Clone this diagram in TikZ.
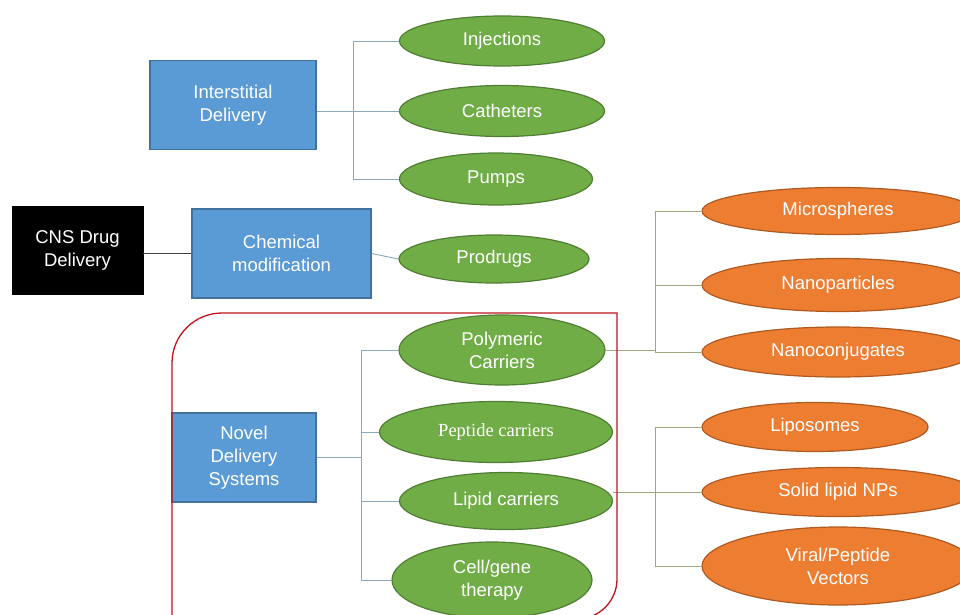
\documentclass[tikz,border=0pt]{standalone}
\usepackage{fontspec}
\setmainfont{Liberation Sans}
\newfontfamily\serifface{Liberation Serif}
\usetikzlibrary{shapes.geometric}
\definecolor{boxblue}{HTML}{5B9BD5}
\definecolor{boxblueline}{HTML}{41719C}
\definecolor{ovgreen}{HTML}{70AD47}
\definecolor{ovgreenline}{HTML}{507E32}
\definecolor{ovorange}{HTML}{ED7D31}
\definecolor{ovorangeline}{HTML}{AE5A21}
\definecolor{linkgray}{RGB}{140,168,188}
\definecolor{linkolive}{RGB}{165,165,128}
\definecolor{frame}{RGB}{192,20,30}
\tikzset{
  txt/.style={text=white, align=center, font=\fontsize{18.5}{23}\selectfont, inner sep=0pt},
  bluebox/.style={txt, rectangle, fill=boxblue, draw=boxblueline, line width=1.2pt},
  greenov/.style={txt, ellipse, fill=ovgreen, draw=ovgreenline, line width=1.2pt},
  orangeov/.style={txt, ellipse, fill=ovorange, draw=ovorangeline, line width=1.2pt},
  link/.style={draw=linkgray, line width=0.9pt},
  linkb/.style={draw=linkolive, line width=0.9pt}
}
\begin{document}
\begin{tikzpicture}[x=1pt, y=-1pt]
			%%%%% START %%%%%
			
			\clip (0, 0) rectangle (960, 615);
			
			\node[txt, rectangle, fill=black, draw=black, minimum width=131pt, minimum height=88pt] (cns) at (77.5, 250) {CNS Drug\\Delivery};
			
			\node[bluebox, minimum width=166pt, minimum height=89pt] (inter) at (233, 105) {Interstitial\\Delivery};
			\node[bluebox, minimum width=179pt, minimum height=89pt] (chem) at (281.5, 253.5) {Chemical\\modification};
			\node[bluebox, minimum width=144pt, minimum height=89pt] (novel) at (244, 457.5) {Novel\\Delivery\\Systems};
			
			\node[greenov, minimum width=205pt, minimum height=50pt] (inj) at (502, 41) {Injections};
			\node[greenov, minimum width=205pt, minimum height=51pt] (cath) at (502, 111) {Catheters};
			\node[greenov, minimum width=193pt, minimum height=52pt] (pump) at (496, 179) {Pumps};
			\node[greenov, minimum width=190pt, minimum height=48pt] (prod) at (494, 259) {Prodrugs};
			
			\node[greenov, minimum width=206pt, minimum height=70pt] (poly) at (502, 350) {Polymeric\\Carriers};
			\node[greenov, minimum width=233pt, minimum height=61pt, font=\serifface\fontsize{18.5}{23}\selectfont] (pept) at (496, 432) {Peptide carriers};
			\node[greenov, minimum width=213pt, minimum height=57pt] (lipid) at (506, 501) {Lipid carriers};
			\node[greenov, minimum width=200pt, minimum height=76pt] (cell) at (492, 580) {Cell/gene\\therapy};
			
			\node[orangeov, minimum width=272pt, minimum height=47pt] (micro) at (838, 211) {Microspheres};
			\node[orangeov, minimum width=272pt, minimum height=53pt] (nanop) at (838, 285) {Nanoparticles};
			\node[orangeov, minimum width=272pt, minimum height=50pt] (nanoc) at (838, 352) {Nanoconjugates};
			\node[orangeov, minimum width=226pt, minimum height=49pt] (lipo) at (815, 427) {Liposomes};
			\node[orangeov, minimum width=272pt, minimum height=49pt] (solid) at (838, 492) {Solid lipid NPs};
			\node[orangeov, minimum width=272pt, minimum height=78pt] (viral) at (838, 566) {Viral/Peptide\\Vectors};
			
			\coordinate (b1) at (353, 0);
			\coordinate (b2) at (361, 0);
			\coordinate (b3) at (655, 0);
			
			\draw[line width=1pt, black!75] (cns.east |- chem.west) -- (chem.west);
			\draw[link] (chem.east) -- (prod.west);
			
			\draw[link] (inter.east |- cath.west) -- (cath.west);
			\draw[link] (inj.west) -- (b1 |- inj.west) -- (b1 |- pump.west) -- (pump.west);
			
			\draw[link] (novel.east) -- (b2 |- novel.east);
			\draw[link] (poly.west) -- (b2 |- poly.west) -- (b2 |- cell.west) -- (cell.west);
			\draw[link] (b2 |- pept.west) -- (pept.west);
			\draw[link] (b2 |- lipid.west) -- (lipid.west);
			
			\draw[linkb] (poly.east) -- (b3 |- poly.east);
			\draw[linkb] (micro.west) -- (b3 |- micro.west) -- (b3 |- nanoc.west) -- (nanoc.west);
			\draw[linkb] (b3 |- nanop.west) -- (nanop.west);
			
			\draw[linkb] (lipid.east |- solid.west) -- (solid.west);
			\draw[linkb] (lipo.west) -- (b3 |- lipo.west) -- (b3 |- viral.west) -- (viral.west);
			
			\draw[frame, line width=1.3pt] (172, 630) [rounded corners=50pt] -- (172, 313) [sharp corners] -- (617, 313) [rounded corners=40pt] -- (617, 619) [sharp corners] -- (560, 619);
			
			%%%%% END %%%%%
\end{tikzpicture}
\end{document}
